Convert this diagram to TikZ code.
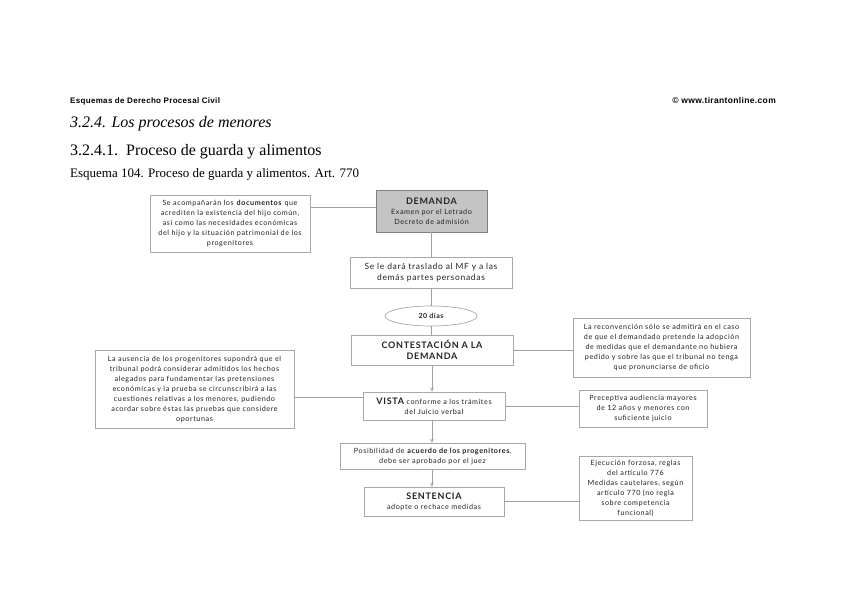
\documentclass[tikz,border=0pt]{standalone}
\usepackage{fontspec}
\setmainfont{Liberation Serif}
\newfontfamily\boxfont[LetterSpace=8]{Lato}
\newfontfamily\hdrfont[LetterSpace=4]{Liberation Sans}
\usetikzlibrary{shapes.geometric,arrows.meta}
\definecolor{bordergray}{HTML}{A8A8A8}
\definecolor{linegray}{HTML}{A0A0A0}
\definecolor{demfill}{HTML}{C4C4C4}
\definecolor{txt}{HTML}{222222}
\tikzset{
  box/.style={draw=bordergray, line width=0.7pt, fill=white, inner sep=0pt, align=center,
    font=\boxfont\fontsize{7.2}{10}\selectfont, text=txt},
  conn/.style={draw=linegray, line width=0.7pt},
  arr/.style={conn, -{Stealth[length=4pt,width=3.5pt]}},
  hdr/.style={anchor=base west, inner sep=0pt, text=black}
}
\begin{document}
\begin{tikzpicture}[x=1pt,y=-1pt]
\useasboundingbox (0,0) rectangle (848,601);
\fill[white] (0,0) rectangle (848,601);

% headers
\node[hdr] (h1) at (70,104) {\hdrfont\fontsize{8}{9}\selectfont\bfseries Esquemas de Derecho Procesal Civil};
\node[anchor=base east, inner sep=0pt] (h2) at (776,104) {\hdrfont\fontsize{8.5}{9}\selectfont\bfseries © www.tirantonline.com};
\node[hdr] (t1) at (70,128) {\fontsize{16}{18}\selectfont\itshape 3.2.4. Los procesos de menores};
\node[hdr] (t2) at (70,156) {\fontsize{16}{18}\selectfont 3.2.4.1.\ \ Proceso de guarda y alimentos};
\node[hdr] (t3) at (70,178) {\fontsize{13}{14}\selectfont Esquema 104. Proceso de guarda y alimentos. Art. 770};

% nodes
\node[box, fill=demfill, draw=gray, minimum width=111pt, minimum height=42pt] (dem) at (431.5,211)
  {{\fontsize{9}{10.5}\selectfont\bfseries DEMANDA}\\Examen por el Letrado\\Decreto de admisión};
\node[box, minimum width=160pt, minimum height=57pt] (doc) at (230,223.5)
  {Se acompañarán los \textbf{documentos} que\\acrediten la existencia del hijo común,\\así como las necesidades económicas\\del hijo y la situación patrimonial de los\\progenitores};
\node[box, minimum width=162pt, minimum height=31pt, font=\boxfont\fontsize{8.5}{11}\selectfont] (tras) at (431,272.5)
  {Se le dará traslado al MF y a las\\demás partes personadas};
\node[box, ellipse, minimum width=92pt, minimum height=20pt, font=\boxfont\fontsize{7}{8}\selectfont\bfseries] (dias) at (431,316) {20 días};
\node[box, minimum width=162pt, minimum height=30pt, font=\boxfont\fontsize{9}{11.5}\selectfont\bfseries] (cont) at (432,350)
  {CONTESTACIÓN A LA\\DEMANDA};
\node[box, minimum width=177pt, minimum height=59pt] (rec) at (661.5,347.5)
  {La reconvención sólo se admitirá en el caso\\de que el demandado pretende la adopción\\de medidas que el demandante no hubiera\\pedido y sobre las que el tribunal no tenga\\que pronunciarse de oficio};
\node[box, minimum width=142pt, minimum height=28pt] (vista) at (434,406)
  {{\fontsize{9}{10}\selectfont\bfseries VISTA} conforme a los trámites\\del Juicio verbal};
\node[box, minimum width=199pt, minimum height=78pt] (aus) at (194.5,389)
  {La ausencia de los progenitores supondrá que el\\tribunal podrá considerar admitidos los hechos\\alegados para fundamentar las pretensiones\\económicas y la prueba se circunscribirá a las\\cuestiones relativas a los menores, pudiendo\\acordar sobre éstas las pruebas que considere\\oportunas};
\node[box, minimum width=128pt, minimum height=37pt] (prec) at (643,408.5)
  {Preceptiva audiencia mayores\\de 12 años y menores con\\suficiente juicio};
\node[box, minimum width=185pt, minimum height=26pt] (pos) at (432.5,456)
  {Posibilidad de \textbf{acuerdo de los progenitores},\\debe ser aprobado por el juez};
\node[box, minimum width=140pt, minimum height=29pt] (sent) at (434,501.5)
  {{\fontsize{9}{10.5}\selectfont\bfseries SENTENCIA}\\adopte o rechace medidas};
\node[box, minimum width=113pt, minimum height=64pt] (ejec) at (635.5,488)
  {Ejecución forzosa, reglas\\del artículo 776\\Medidas cautelares, según\\artículo 770 (no regla\\sobre competencia\\funcional)};

% connectors
\coordinate (c1) at (376,207);
\draw[conn] (dem.west |- c1) -- (doc.east |- c1);
\draw[conn] (dem.south) -- (dem.south |- tras.north);
\draw[conn] (tras.south) -- (tras.south |- dias.north);
\draw[conn] (dias.south) -- (dias.south |- cont.north);
\draw[conn] (cont.east) -- (rec.west |- cont.east);
\draw[arr] (cont.south) -- (cont.south |- vista.north);
\coordinate (c2) at (363,397);
\draw[conn] (vista.west |- c2) -- (aus.east |- c2);
\draw[conn] (vista.east) -- (prec.west |- vista.east);
\draw[arr] (vista.south -| cont.south) -- (cont.south |- pos.north);
\draw[arr] (pos.south -| cont.south) -- (cont.south |- sent.north);
\draw[conn] (sent.east) -- (ejec.west |- sent.east);
\end{tikzpicture}
\end{document}
